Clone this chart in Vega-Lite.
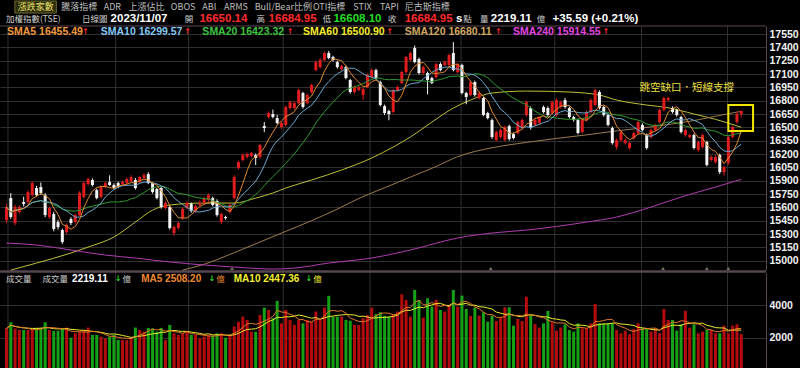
{
"$schema":"https://vega.github.io/schema/vega-lite/v6.json",
"width":766,"height":368,
"autosize":{"type":"none"},
"padding":{"left":0,"top":0,"right":34,"bottom":0},
"background":"#000000",
"config":{"view":{"stroke":null}},
"datasets":{
"k":[
{"i":0,"o":15457,"h":15640,"l":15420,"c":15603,"v":2570},
{"i":1,"o":15704,"h":15760,"l":15470,"c":15491,"v":2940},
{"i":2,"o":15423,"h":15630,"l":15400,"c":15603,"v":2570},
{"i":3,"o":15547,"h":15620,"l":15530,"c":15603,"v":2470},
{"i":4,"o":15659,"h":15720,"l":15610,"c":15637,"v":2470},
{"i":5,"o":15659,"h":15790,"l":15640,"c":15772,"v":2470},
{"i":6,"o":15738,"h":15890,"l":15720,"c":15873,"v":2470},
{"i":7,"o":15817,"h":15840,"l":15720,"c":15738,"v":2600},
{"i":8,"o":15828,"h":15880,"l":15740,"c":15761,"v":2620},
{"i":9,"o":15738,"h":15760,"l":15490,"c":15513,"v":2940},
{"i":10,"o":15491,"h":15610,"l":15470,"c":15592,"v":2470},
{"i":11,"o":15524,"h":15550,"l":15330,"c":15356,"v":2420},
{"i":12,"o":15434,"h":15460,"l":15350,"c":15378,"v":2420},
{"i":13,"o":15344,"h":15360,"l":15190,"c":15209,"v":2560},
{"i":14,"o":15322,"h":15420,"l":15300,"c":15401,"v":2620},
{"i":15,"o":15468,"h":15490,"l":15400,"c":15423,"v":2000},
{"i":16,"o":15434,"h":15530,"l":15420,"c":15513,"v":2270},
{"i":17,"o":15513,"h":15780,"l":15500,"c":15761,"v":2370},
{"i":18,"o":15716,"h":15890,"l":15700,"c":15873,"v":2470},
{"i":19,"o":15862,"h":15935,"l":15845,"c":15918,"v":2620},
{"i":20,"o":15907,"h":15925,"l":15835,"c":15851,"v":2170},
{"i":21,"o":15794,"h":15810,"l":15690,"c":15704,"v":2170},
{"i":22,"o":15716,"h":15845,"l":15700,"c":15828,"v":2060},
{"i":23,"o":15828,"h":15890,"l":15815,"c":15873,"v":1960},
{"i":24,"o":15884,"h":15960,"l":15840,"c":15851,"v":2060},
{"i":25,"o":15851,"h":15870,"l":15800,"c":15817,"v":2170},
{"i":26,"o":15873,"h":15890,"l":15815,"c":15828,"v":1860},
{"i":27,"o":15862,"h":15900,"l":15850,"c":15884,"v":1860},
{"i":28,"o":15873,"h":15935,"l":15860,"c":15918,"v":1860},
{"i":29,"o":15896,"h":15960,"l":15885,"c":15941,"v":2000},
{"i":30,"o":15907,"h":15930,"l":15800,"c":15817,"v":2620},
{"i":31,"o":15884,"h":15955,"l":15870,"c":15941,"v":2470},
{"i":32,"o":15929,"h":15985,"l":15915,"c":15963,"v":2370},
{"i":33,"o":15974,"h":15995,"l":15860,"c":15873,"v":2600},
{"i":34,"o":15873,"h":15885,"l":15755,"c":15772,"v":2570},
{"i":35,"o":15806,"h":15820,"l":15690,"c":15704,"v":2370},
{"i":36,"o":15817,"h":15830,"l":15585,"c":15603,"v":2600},
{"i":37,"o":15592,"h":15665,"l":15575,"c":15648,"v":1860},
{"i":38,"o":15603,"h":15620,"l":15350,"c":15367,"v":2780},
{"i":39,"o":15311,"h":15395,"l":15280,"c":15378,"v":2270},
{"i":40,"o":15367,"h":15440,"l":15350,"c":15423,"v":2170},
{"i":41,"o":15479,"h":15600,"l":15460,"c":15581,"v":2270},
{"i":42,"o":15592,"h":15665,"l":15575,"c":15648,"v":2370},
{"i":43,"o":15637,"h":15655,"l":15540,"c":15558,"v":2170},
{"i":44,"o":15558,"h":15630,"l":15540,"c":15614,"v":2170},
{"i":45,"o":15626,"h":15680,"l":15610,"c":15648,"v":1960},
{"i":46,"o":15648,"h":15720,"l":15630,"c":15704,"v":2060},
{"i":47,"o":15682,"h":15755,"l":15665,"c":15738,"v":2170},
{"i":48,"o":15704,"h":15720,"l":15610,"c":15626,"v":2120},
{"i":49,"o":15671,"h":15690,"l":15495,"c":15513,"v":2270},
{"i":50,"o":15434,"h":15540,"l":15410,"c":15524,"v":2270},
{"i":51,"o":15491,"h":15505,"l":15460,"c":15479,"v":2000},
{"i":52,"o":15547,"h":15640,"l":15530,"c":15626,"v":2170},
{"i":53,"o":15704,"h":15960,"l":15690,"c":15941,"v":2680},
{"i":54,"o":16042,"h":16125,"l":16025,"c":16109,"v":2980},
{"i":55,"o":16132,"h":16205,"l":16115,"c":16188,"v":3290},
{"i":56,"o":16166,"h":16215,"l":16150,"c":16199,"v":3090},
{"i":57,"o":16177,"h":16225,"l":16160,"c":16211,"v":2370},
{"i":58,"o":16188,"h":16205,"l":16075,"c":16154,"v":2370},
{"i":59,"o":16166,"h":16315,"l":16150,"c":16301,"v":3390},
{"i":60,"o":16514,"h":16560,"l":16445,"c":16492,"v":3840},
{"i":61,"o":16616,"h":16680,"l":16600,"c":16661,"v":3700},
{"i":62,"o":16649,"h":16700,"l":16600,"c":16616,"v":3190},
{"i":63,"o":16604,"h":16640,"l":16530,"c":16548,"v":4250},
{"i":64,"o":16503,"h":16565,"l":16485,"c":16548,"v":2880},
{"i":65,"o":16526,"h":16745,"l":16510,"c":16728,"v":3700},
{"i":66,"o":16717,"h":16800,"l":16700,"c":16784,"v":3090},
{"i":67,"o":16717,"h":16790,"l":16700,"c":16773,"v":2780},
{"i":68,"o":16773,"h":16935,"l":16760,"c":16919,"v":3090},
{"i":69,"o":16886,"h":16900,"l":16710,"c":16728,"v":2880},
{"i":70,"o":16773,"h":16880,"l":16760,"c":16863,"v":3090},
{"i":71,"o":16897,"h":16990,"l":16880,"c":16976,"v":2980},
{"i":72,"o":17144,"h":17250,"l":17130,"c":17234,"v":3600},
{"i":73,"o":17178,"h":17275,"l":17160,"c":17257,"v":3090},
{"i":74,"o":17257,"h":17350,"l":17240,"c":17336,"v":3840},
{"i":75,"o":17336,"h":17360,"l":17265,"c":17279,"v":4560},
{"i":76,"o":17291,"h":17305,"l":17240,"c":17257,"v":3290},
{"i":77,"o":17234,"h":17250,"l":17160,"c":17178,"v":3290},
{"i":78,"o":17155,"h":17205,"l":17140,"c":17189,"v":3290},
{"i":79,"o":17178,"h":17195,"l":17040,"c":17054,"v":3090},
{"i":80,"o":17032,"h":17045,"l":16880,"c":16897,"v":3040},
{"i":81,"o":16897,"h":16970,"l":16880,"c":16953,"v":2780},
{"i":82,"o":16919,"h":16970,"l":16905,"c":16953,"v":2780},
{"i":83,"o":16863,"h":16945,"l":16807,"c":16931,"v":3190},
{"i":84,"o":16953,"h":17105,"l":16940,"c":17088,"v":3390},
{"i":85,"o":17066,"h":17160,"l":17050,"c":17144,"v":3840},
{"i":86,"o":17144,"h":17160,"l":17040,"c":17054,"v":3440},
{"i":87,"o":17009,"h":17025,"l":16735,"c":16751,"v":3560},
{"i":88,"o":16739,"h":16755,"l":16640,"c":16661,"v":3340},
{"i":89,"o":16683,"h":16700,"l":16580,"c":16649,"v":3290},
{"i":90,"o":16672,"h":16935,"l":16655,"c":16919,"v":3390},
{"i":91,"o":16919,"h":16970,"l":16905,"c":16953,"v":3600},
{"i":92,"o":16998,"h":17135,"l":16985,"c":17122,"v":4655},
{"i":93,"o":17122,"h":17305,"l":17105,"c":17291,"v":4308},
{"i":94,"o":17257,"h":17350,"l":17240,"c":17336,"v":3289},
{"i":95,"o":17392,"h":17420,"l":17220,"c":17234,"v":4920},
{"i":96,"o":17268,"h":17285,"l":17095,"c":17111,"v":4308},
{"i":97,"o":17111,"h":17195,"l":17095,"c":17178,"v":3225},
{"i":98,"o":17111,"h":17125,"l":16870,"c":17032,"v":4411},
{"i":99,"o":17054,"h":17070,"l":16985,"c":16998,"v":3900},
{"i":100,"o":17066,"h":17225,"l":17050,"c":17212,"v":4308},
{"i":101,"o":17212,"h":17230,"l":17130,"c":17144,"v":3697},
{"i":102,"o":17201,"h":17250,"l":17190,"c":17234,"v":3595},
{"i":103,"o":17201,"h":17325,"l":17185,"c":17313,"v":3961},
{"i":104,"o":17336,"h":17460,"l":17130,"c":17144,"v":4920},
{"i":105,"o":17122,"h":17225,"l":17105,"c":17212,"v":3900},
{"i":106,"o":17201,"h":17215,"l":16870,"c":16886,"v":4574},
{"i":107,"o":16886,"h":16900,"l":16760,"c":16841,"v":3758},
{"i":108,"o":16863,"h":17025,"l":16850,"c":17009,"v":3330},
{"i":109,"o":17009,"h":17025,"l":16845,"c":16863,"v":3840},
{"i":110,"o":16829,"h":16900,"l":16815,"c":16886,"v":3350},
{"i":111,"o":16829,"h":16845,"l":16625,"c":16638,"v":3554},
{"i":112,"o":16661,"h":16675,"l":16590,"c":16604,"v":2982},
{"i":113,"o":16582,"h":16600,"l":16370,"c":16391,"v":3350},
{"i":114,"o":16357,"h":16465,"l":16340,"c":16447,"v":3024},
{"i":115,"o":16391,"h":16485,"l":16375,"c":16469,"v":3248},
{"i":116,"o":16357,"h":16520,"l":16340,"c":16503,"v":3860},
{"i":117,"o":16514,"h":16530,"l":16350,"c":16368,"v":3860},
{"i":118,"o":16424,"h":16440,"l":16365,"c":16379,"v":2737},
{"i":119,"o":16436,"h":16575,"l":16420,"c":16559,"v":3146},
{"i":120,"o":16492,"h":16600,"l":16475,"c":16582,"v":3024},
{"i":121,"o":16638,"h":16800,"l":16620,"c":16784,"v":4513},
{"i":122,"o":16717,"h":16735,"l":16475,"c":16492,"v":3350},
{"i":123,"o":16526,"h":16600,"l":16510,"c":16582,"v":2840},
{"i":124,"o":16548,"h":16630,"l":16530,"c":16616,"v":2615},
{"i":125,"o":16728,"h":16745,"l":16655,"c":16672,"v":2880},
{"i":126,"o":16717,"h":16735,"l":16620,"c":16638,"v":3636},
{"i":127,"o":16661,"h":16800,"l":16645,"c":16784,"v":2942},
{"i":128,"o":16638,"h":16825,"l":16620,"c":16807,"v":2431},
{"i":129,"o":16728,"h":16800,"l":16710,"c":16784,"v":2615},
{"i":130,"o":16807,"h":16830,"l":16710,"c":16728,"v":2819},
{"i":131,"o":16717,"h":16735,"l":16600,"c":16616,"v":2472},
{"i":132,"o":16616,"h":16630,"l":16565,"c":16582,"v":2370},
{"i":133,"o":16582,"h":16600,"l":16420,"c":16436,"v":2880},
{"i":134,"o":16447,"h":16600,"l":16430,"c":16582,"v":2574},
{"i":135,"o":16582,"h":16690,"l":16565,"c":16672,"v":2574},
{"i":136,"o":16672,"h":16825,"l":16655,"c":16807,"v":2880},
{"i":137,"o":16751,"h":16935,"l":16735,"c":16919,"v":4064},
{"i":138,"o":16897,"h":16915,"l":16700,"c":16717,"v":2880},
{"i":139,"o":16728,"h":16745,"l":16620,"c":16638,"v":2880},
{"i":140,"o":16638,"h":16655,"l":16510,"c":16526,"v":2880},
{"i":141,"o":16492,"h":16510,"l":16305,"c":16323,"v":2880},
{"i":142,"o":16278,"h":16375,"l":16250,"c":16357,"v":2472},
{"i":143,"o":16357,"h":16465,"l":16340,"c":16447,"v":2268},
{"i":144,"o":16323,"h":16375,"l":16305,"c":16357,"v":2431},
{"i":145,"o":16267,"h":16340,"l":16250,"c":16323,"v":2207},
{"i":146,"o":16379,"h":16450,"l":16360,"c":16436,"v":2533},
{"i":147,"o":16436,"h":16575,"l":16420,"c":16559,"v":2880},
{"i":148,"o":16526,"h":16545,"l":16455,"c":16469,"v":2574},
{"i":149,"o":16413,"h":16430,"l":16250,"c":16267,"v":2533},
{"i":150,"o":16391,"h":16485,"l":16375,"c":16469,"v":2370},
{"i":151,"o":16469,"h":16540,"l":16455,"c":16526,"v":2574},
{"i":152,"o":16559,"h":16710,"l":16545,"c":16694,"v":2268},
{"i":153,"o":16694,"h":16845,"l":16680,"c":16829,"v":3758},
{"i":154,"o":16807,"h":16845,"l":16790,"c":16829,"v":3085},
{"i":155,"o":16717,"h":16735,"l":16655,"c":16672,"v":3085},
{"i":156,"o":16694,"h":16710,"l":16620,"c":16638,"v":2431},
{"i":157,"o":16616,"h":16630,"l":16430,"c":16447,"v":2819},
{"i":158,"o":16413,"h":16485,"l":16395,"c":16469,"v":3636},
{"i":159,"o":16391,"h":16430,"l":16375,"c":16413,"v":2615},
{"i":160,"o":16413,"h":16430,"l":16250,"c":16267,"v":2819},
{"i":161,"o":16244,"h":16350,"l":16225,"c":16334,"v":2268},
{"i":162,"o":16278,"h":16430,"l":16260,"c":16413,"v":2370},
{"i":163,"o":16334,"h":16350,"l":16060,"c":16076,"v":2472},
{"i":164,"o":16132,"h":16185,"l":16115,"c":16166,"v":2472},
{"i":165,"o":16109,"h":16185,"l":16090,"c":16166,"v":2268},
{"i":166,"o":16188,"h":16205,"l":15975,"c":15997,"v":2268},
{"i":167,"o":15997,"h":16070,"l":15955,"c":16053,"v":2737},
{"i":168,"o":16098,"h":16405,"l":16080,"c":16391,"v":2268},
{"i":169,"o":16391,"h":16520,"l":16375,"c":16503,"v":2737},
{"i":170,"o":16560,"h":16675,"l":16540,"c":16649,"v":2819},
{"i":171,"o":16650.14,"h":16684.95,"l":16608.1,"c":16684.95,"v":2219.11}
],
"lma":[
{"k":"L60","i":1,"p":14894},{"k":"L60","i":7,"p":14973},{"k":"L60","i":15,"p":15086},{"k":"L60","i":19,"p":15153},{"k":"L60","i":25,"p":15266},{"k":"L60","i":30,"p":15434},{"k":"L60","i":34,"p":15569},{"k":"L60","i":38,"p":15626},{"k":"L60","i":46,"p":15648},{"k":"L60","i":53,"p":15648},{"k":"L60","i":58,"p":15704},{"k":"L60","i":62,"p":15761},{"k":"L60","i":65,"p":15817},{"k":"L60","i":71,"p":15907},{"k":"L60","i":78,"p":16020},{"k":"L60","i":85,"p":16155},{"k":"L60","i":90,"p":16278},{"k":"L60","i":94,"p":16391},{"k":"L60","i":99,"p":16559},{"k":"L60","i":104,"p":16717},{"k":"L60","i":108,"p":16807},{"k":"L60","i":113,"p":16886},{"k":"L60","i":121,"p":16908},{"k":"L60","i":131,"p":16897},{"k":"L60","i":138,"p":16863},{"k":"L60","i":142,"p":16807},{"k":"L60","i":149,"p":16751},{"k":"L60","i":154,"p":16720},{"k":"L60","i":160,"p":16650},{"k":"L60","i":165,"p":16590},{"k":"L60","i":171,"p":16500.9},
{"k":"L120","i":41,"p":14894},{"k":"L120","i":46,"p":14960},{"k":"L120","i":53,"p":15090},{"k":"L120","i":59,"p":15210},{"k":"L120","i":65,"p":15330},{"k":"L120","i":71,"p":15450},{"k":"L120","i":77,"p":15580},{"k":"L120","i":82,"p":15700},{"k":"L120","i":88,"p":15820},{"k":"L120","i":94,"p":15940},{"k":"L120","i":100,"p":16060},{"k":"L120","i":105,"p":16170},{"k":"L120","i":113,"p":16270},{"k":"L120","i":121,"p":16330},{"k":"L120","i":128,"p":16375},{"k":"L120","i":135,"p":16415},{"k":"L120","i":142,"p":16460},{"k":"L120","i":150,"p":16505},{"k":"L120","i":156,"p":16545},{"k":"L120","i":161,"p":16585},{"k":"L120","i":165,"p":16625},{"k":"L120","i":171,"p":16680.11},
{"k":"L240","i":0,"p":15198},{"k":"L240","i":7,"p":15176},{"k":"L240","i":15,"p":15120},{"k":"L240","i":23,"p":15063},{"k":"L240","i":30,"p":15030},{"k":"L240","i":38,"p":14985},{"k":"L240","i":46,"p":14951},{"k":"L240","i":53,"p":14928},{"k":"L240","i":62,"p":14906},{"k":"L240","i":67,"p":14917},{"k":"L240","i":75,"p":14973},{"k":"L240","i":85,"p":15030},{"k":"L240","i":94,"p":15120},{"k":"L240","i":105,"p":15255},{"k":"L240","i":113,"p":15311},{"k":"L240","i":121,"p":15344},{"k":"L240","i":135,"p":15434},{"k":"L240","i":142,"p":15491},{"k":"L240","i":150,"p":15603},{"k":"L240","i":157,"p":15716},{"k":"L240","i":165,"p":15828},{"k":"L240","i":171,"p":15914.55}
],
"mon":[{"m":"03","i":0.35},{"m":"04","i":25.4},{"m":"05","i":42.4},{"m":"06","i":64.4},{"m":"07","i":84.6},{"m":"08","i":105.8},{"m":"09","i":127.6},{"m":"10","i":147.8},{"m":"11","i":167.8}],
"ev":[{"i":52.5},{"i":112.7},{"i":152.8},{"i":163.0},{"i":168.0}],
"tabs":[
{"t":"漲跌家數","i":2.64,"p":17850,"k":"tabon"},
{"t":"騰落指標","i":12.75,"p":17850,"k":"tab"},
{"t":"ADR","i":22.62,"p":17850,"k":"tab"},
{"t":"上漲佔比","i":28.37,"p":17850,"k":"tab"},
{"t":"OBOS","i":38.24,"p":17850,"k":"tab"},
{"t":"ABI","i":45.59,"p":17850,"k":"tab"},
{"t":"ARMS","i":50.64,"p":17850,"k":"tab"},
{"t":"Bull/Bear比例","i":57.76,"p":17850,"k":"tab"},
{"t":"OTI指標","i":71.31,"p":17850,"k":"tab"},
{"t":"STIX","i":80.73,"p":17850,"k":"tab"},
{"t":"TAPI","i":86.93,"p":17850,"k":"tab"},
{"t":"尼古斯指標","i":92.67,"p":17850,"k":"tab"}
],
"cjk":[
{"t":"加權指數(TSE)","i":-0.115,"p":17714,"k":"lbl"},
{"t":"日線圖","i":17.57,"p":17714,"k":"lbl"},
{"t":"開","i":41.46,"p":17714,"k":"lbl"},
{"t":"高","i":58.2,"p":17714,"k":"lbl"},
{"t":"低","i":73.6,"p":17714,"k":"lbl"},
{"t":"收","i":88.8,"p":17714,"k":"lbl"},
{"t":"點","i":106.3,"p":17714,"k":"lbl"},
{"t":"量","i":110.2,"p":17714,"k":"lbl"},
{"t":"億","i":123.4,"p":17714,"k":"lbl"},
{"t":"成交量","i":-0.115,"p":14793,"k":"lbl"},
{"t":"成交量","i":8.38,"p":14793,"k":"lbl"},
{"t":"億","i":27.0,"p":14793,"k":"lbl"},
{"t":"億","i":48.8,"p":14793,"k":"vma5"},
{"t":"億","i":71.4,"p":14793,"k":"vma10"}
],
"num":[
{"t":"2023/11/07","i":24.23,"p":17714,"k":"val"},
{"t":"16650.14","i":44.9,"p":17714,"k":"red"},
{"t":"16684.95","i":61.0,"p":17714,"k":"red"},
{"t":"16608.10","i":76.1,"p":17714,"k":"grn"},
{"t":"16684.95","i":92.67,"p":17714,"k":"red"},
{"t":"s","i":104.6,"p":17714,"k":"val"},
{"t":"2219.11","i":112.7,"p":17714,"k":"val"},
{"t":"+35.59 (+0.21%)","i":127.1,"p":17714,"k":"val"}
],
"leg":[
{"t":"SMA5 16455.49","i":0.114,"p":17575,"k":"sma5"},
{"t":"SMA10 16299.57","i":21.93,"p":17575,"k":"sma10"},
{"t":"SMA20 16423.32","i":45.59,"p":17575,"k":"sma20"},
{"t":"SMA60 16500.90","i":69.0,"p":17575,"k":"sma60"},
{"t":"SMA120 16680.11","i":92.67,"p":17575,"k":"sma120"},
{"t":"SMA240 15914.55","i":117.9,"p":17575,"k":"sma240"}
],
"vleg":[
{"t":"2219.11","i":15.27,"p":14793,"k":"val"},
{"t":"MA5 2508.20","i":31.35,"p":14793,"k":"vma5"},
{"t":"MA10 2447.36","i":52.9,"p":14793,"k":"vma10"}
],
"arr":[
{"t":"↑","i":17.57,"p":17575,"k":"red"},
{"t":"↑","i":41.3,"p":17575,"k":"red"},
{"t":"↑","i":65.2,"p":17575,"k":"red"},
{"t":"↑","i":88.4,"p":17575,"k":"red"},
{"t":"↑","i":113.7,"p":17575,"k":"red"},
{"t":"↑","i":138.7,"p":17575,"k":"red"},
{"t":"↓","i":25.2,"p":14793,"k":"grn"},
{"t":"↓","i":47.0,"p":14793,"k":"grn"},
{"t":"↓","i":69.6,"p":14793,"k":"grn"}
],
"note":[{"t":"跳空缺口．短線支撐","i":147.3,"p":16942,"k":"note"}]
},
"layer":[
{"data":{"name":"mon"},"mark":{"type":"rule","color":"#303030","strokeWidth":1},
 "encoding":{"x":{"field":"i","type":"quantitative","scale":{"domain":[-0.345,175.6],"nice":false,"zero":false},"axis":null},
 "y":{"datum":17640,"type":"quantitative","scale":{"domain":[14895,17640],"range":[270,26],"nice":false,"zero":false},"axis":null},
 "y2":{"datum":13792}}},
{"data":{"name":"k"},"mark":{"type":"bar","size":3},
 "encoding":{"x":{"field":"i","type":"quantitative","scale":{"domain":[-0.345,175.6],"nice":false,"zero":false},"axis":null},
 "y":{"field":"v","type":"quantitative","scale":{"domain":[0,6000],"range":[370.4,272.3],"nice":false,"zero":false},
  "axis":{"orient":"right","values":[2000,4000],"format":"d","grid":true,"gridColor":"#303030","ticks":false,"domainColor":"#564650","labelColor":"#f2f2f2","labelFont":"Liberation Sans","labelFontSize":10.5,"labelFontWeight":"bold","labelPadding":3,"labelAlign":"left","labelBaseline":"middle","labelFlush":false,"labelOverlap":false,"title":null}},
 "color":{"condition":{"test":"datum.c >= datum.o","value":"#b40c0c"},"value":"#16a016"}}},
{"data":{"name":"k"},"transform":[{"window":[{"op":"mean","field":"v","as":"m"}],"frame":[-9,0],"sort":[{"field":"i"}]}],
 "mark":{"type":"line","color":"#ecec30","strokeWidth":1},
 "encoding":{"x":{"field":"i","type":"quantitative","scale":{"domain":[-0.345,175.6],"nice":false,"zero":false},"axis":null},
 "y":{"field":"m","type":"quantitative","scale":{"domain":[0,6000],"range":[370.4,272.3],"nice":false,"zero":false},"axis":null}}},
{"data":{"name":"k"},"transform":[{"window":[{"op":"mean","field":"v","as":"m"}],"frame":[-4,0],"sort":[{"field":"i"}]}],
 "mark":{"type":"line","color":"#e07828","strokeWidth":1},
 "encoding":{"x":{"field":"i","type":"quantitative","scale":{"domain":[-0.345,175.6],"nice":false,"zero":false},"axis":null},
 "y":{"field":"m","type":"quantitative","scale":{"domain":[0,6000],"range":[370.4,272.3],"nice":false,"zero":false},"axis":null}}},
{"data":{"values":[{}]},"mark":{"type":"rule","color":"#564650","strokeWidth":1},
 "encoding":{"y":{"datum":17640,"type":"quantitative","scale":{"domain":[14895,17640],"range":[270,26],"nice":false,"zero":false},"axis":null}}},
{"data":{"values":[{}]},"mark":{"type":"rule","color":"#564650","strokeWidth":2.5},
 "encoding":{"y":{"datum":14878,"type":"quantitative","scale":{"domain":[14895,17640],"range":[270,26],"nice":false,"zero":false},"axis":null}}},
{"data":{"name":"lma"},"mark":{"type":"line","strokeWidth":1,"interpolate":"monotone"},
 "encoding":{"x":{"field":"i","type":"quantitative","scale":{"domain":[-0.345,175.6],"nice":false,"zero":false},"axis":null},
 "y":{"field":"p","type":"quantitative","scale":{"domain":[14895,17640],"range":[270,26],"nice":false,"zero":false},"axis":null},
 "color":{"field":"k","type":"nominal","legend":null,"scale":{"domain":["tab","tabon","lbl","val","red","grn","sma5","sma10","sma20","sma60","sma120","sma240","vma5","vma10","note","L60","L120","L240"],"range":["#bdbdbd","#e8e070","#cfcfcf","#ffffff","#ff2a2a","#22dd22","#f39a3e","#84c8f4","#3cc43c","#f4ec2c","#d2a862","#e048e0","#f08a30","#f4f030","#f0e040","#bebe36","#9c7c4c","#b03cb0"]}}}},
{"data":{"name":"k"},"mark":{"type":"rule","strokeWidth":1},
 "encoding":{"x":{"field":"i","type":"quantitative","scale":{"domain":[-0.345,175.6],"nice":false,"zero":false},"axis":null},
 "y":{"field":"l","type":"quantitative","scale":{"domain":[14895,17640],"range":[270,26],"nice":false,"zero":false},"axis":null},
 "y2":{"field":"h"},
 "color":{"condition":{"test":"datum.c >= datum.o","value":"#e01c1c"},"value":"#f4f4f4"}}},
{"data":{"name":"k"},"mark":{"type":"bar","size":3},
 "encoding":{"x":{"field":"i","type":"quantitative","scale":{"domain":[-0.345,175.6],"nice":false,"zero":false},"axis":null},
 "y":{"field":"o","type":"quantitative","scale":{"domain":[14895,17640],"range":[270,26],"nice":false,"zero":false},
  "axis":{"orient":"right","values":[15000,15150,15300,15450,15600,15750,15900,16050,16200,16350,16500,16650,16800,16950,17100,17250,17400,17550],"format":"d","grid":true,"gridColor":"#303030","ticks":false,"domainColor":"#564650","labelColor":"#f2f2f2","labelFont":"Liberation Sans","labelFontSize":10.5,"labelFontWeight":"bold","labelPadding":3,"labelAlign":"left","labelBaseline":"middle","labelFlush":false,"labelOverlap":false,"title":null}},
 "y2":{"field":"c"},
 "color":{"condition":{"test":"datum.c >= datum.o","value":"#e01c1c"},"value":"#f4f4f4"}}},
{"data":{"name":"k"},"transform":[{"window":[{"op":"mean","field":"c","as":"m"}],"frame":[-19,0],"sort":[{"field":"i"}]}],
 "mark":{"type":"line","color":"#2f9a2f","strokeWidth":1},
 "encoding":{"x":{"field":"i","type":"quantitative","scale":{"domain":[-0.345,175.6],"nice":false,"zero":false},"axis":null},
 "y":{"field":"m","type":"quantitative","scale":{"domain":[14895,17640],"range":[270,26],"nice":false,"zero":false},"axis":null}}},
{"data":{"name":"k"},"transform":[{"window":[{"op":"mean","field":"c","as":"m"}],"frame":[-9,0],"sort":[{"field":"i"}]}],
 "mark":{"type":"line","color":"#6aa8d0","strokeWidth":1},
 "encoding":{"x":{"field":"i","type":"quantitative","scale":{"domain":[-0.345,175.6],"nice":false,"zero":false},"axis":null},
 "y":{"field":"m","type":"quantitative","scale":{"domain":[14895,17640],"range":[270,26],"nice":false,"zero":false},"axis":null}}},
{"data":{"name":"k"},"transform":[{"window":[{"op":"mean","field":"c","as":"m"}],"frame":[-4,0],"sort":[{"field":"i"}]}],
 "mark":{"type":"line","color":"#e08a2e","strokeWidth":1},
 "encoding":{"x":{"field":"i","type":"quantitative","scale":{"domain":[-0.345,175.6],"nice":false,"zero":false},"axis":null},
 "y":{"field":"m","type":"quantitative","scale":{"domain":[14895,17640],"range":[270,26],"nice":false,"zero":false},"axis":null}}},
{"data":{"name":"ev"},"mark":{"type":"point","shape":"triangle-up","filled":true,"size":14,"color":"#6c7458","opacity":1},
 "encoding":{"x":{"field":"i","type":"quantitative","scale":{"domain":[-0.345,175.6],"nice":false,"zero":false},"axis":null},
 "y":{"datum":14912,"type":"quantitative","scale":{"domain":[14895,17640],"range":[270,26],"nice":false,"zero":false},"axis":null}}},
{"data":{"values":[{"a":1.95,"b":11.6,"p1":17921,"p2":17786}]},"mark":{"type":"rect","fill":"#2c2c08","stroke":"#6c6c30","strokeWidth":1},
 "encoding":{"x":{"field":"a","type":"quantitative","scale":{"domain":[-0.345,175.6],"nice":false,"zero":false},"axis":null},"x2":{"field":"b"},
 "y":{"field":"p1","type":"quantitative","scale":{"domain":[14895,17640],"range":[270,26],"nice":false,"zero":false},"axis":null},"y2":{"field":"p2"}}},
{"data":{"values":[{"a":168.0,"b":173.75,"p1":16751,"p2":16458}]},"mark":{"type":"rect","filled":false,"stroke":"#f2e600","strokeWidth":2},
 "encoding":{"x":{"field":"a","type":"quantitative","scale":{"domain":[-0.345,175.6],"nice":false,"zero":false},"axis":null},"x2":{"field":"b"},
 "y":{"field":"p1","type":"quantitative","scale":{"domain":[14895,17640],"range":[270,26],"nice":false,"zero":false},"axis":null},"y2":{"field":"p2"}}},
{"data":{"name":"tabs"},"mark":{"type":"text","align":"left","baseline":"middle","font":"Noto Sans CJK TC","fontSize":9},
 "encoding":{"x":{"field":"i","type":"quantitative","scale":{"domain":[-0.345,175.6],"nice":false,"zero":false},"axis":null},
 "y":{"field":"p","type":"quantitative","scale":{"domain":[14895,17640],"range":[270,26],"nice":false,"zero":false},"axis":null},
 "text":{"field":"t"},"color":{"field":"k","type":"nominal","legend":null}}},
{"data":{"name":"cjk"},"mark":{"type":"text","align":"left","baseline":"middle","font":"Noto Sans CJK TC","fontSize":8.5},
 "encoding":{"x":{"field":"i","type":"quantitative","scale":{"domain":[-0.345,175.6],"nice":false,"zero":false},"axis":null},
 "y":{"field":"p","type":"quantitative","scale":{"domain":[14895,17640],"range":[270,26],"nice":false,"zero":false},"axis":null},
 "text":{"field":"t"},"color":{"field":"k","type":"nominal","legend":null}}},
{"data":{"name":"num"},"mark":{"type":"text","align":"left","baseline":"middle","font":"Liberation Sans","fontSize":11.5,"fontWeight":"bold"},
 "encoding":{"x":{"field":"i","type":"quantitative","scale":{"domain":[-0.345,175.6],"nice":false,"zero":false},"axis":null},
 "y":{"field":"p","type":"quantitative","scale":{"domain":[14895,17640],"range":[270,26],"nice":false,"zero":false},"axis":null},
 "text":{"field":"t"},"color":{"field":"k","type":"nominal","legend":null}}},
{"data":{"name":"leg"},"mark":{"type":"text","align":"left","baseline":"middle","font":"Liberation Sans","fontSize":10.5,"fontWeight":"bold"},
 "encoding":{"x":{"field":"i","type":"quantitative","scale":{"domain":[-0.345,175.6],"nice":false,"zero":false},"axis":null},
 "y":{"field":"p","type":"quantitative","scale":{"domain":[14895,17640],"range":[270,26],"nice":false,"zero":false},"axis":null},
 "text":{"field":"t"},"color":{"field":"k","type":"nominal","legend":null}}},
{"data":{"name":"vleg"},"mark":{"type":"text","align":"left","baseline":"middle","font":"Liberation Sans","fontSize":10,"fontWeight":"bold"},
 "encoding":{"x":{"field":"i","type":"quantitative","scale":{"domain":[-0.345,175.6],"nice":false,"zero":false},"axis":null},
 "y":{"field":"p","type":"quantitative","scale":{"domain":[14895,17640],"range":[270,26],"nice":false,"zero":false},"axis":null},
 "text":{"field":"t"},"color":{"field":"k","type":"nominal","legend":null}}},
{"data":{"name":"arr"},"mark":{"type":"text","align":"left","baseline":"middle","font":"DejaVu Sans","fontSize":8,"fontWeight":"bold"},
 "encoding":{"x":{"field":"i","type":"quantitative","scale":{"domain":[-0.345,175.6],"nice":false,"zero":false},"axis":null},
 "y":{"field":"p","type":"quantitative","scale":{"domain":[14895,17640],"range":[270,26],"nice":false,"zero":false},"axis":null},
 "text":{"field":"t"},"color":{"field":"k","type":"nominal","legend":null}}},
{"data":{"name":"note"},"mark":{"type":"text","align":"left","baseline":"middle","font":"Noto Sans CJK TC","fontSize":10.5},
 "encoding":{"x":{"field":"i","type":"quantitative","scale":{"domain":[-0.345,175.6],"nice":false,"zero":false},"axis":null},
 "y":{"field":"p","type":"quantitative","scale":{"domain":[14895,17640],"range":[270,26],"nice":false,"zero":false},"axis":null},
 "text":{"field":"t"},"color":{"field":"k","type":"nominal","legend":null}}}
],
"resolve":{"scale":{"y":"independent"}}
}
